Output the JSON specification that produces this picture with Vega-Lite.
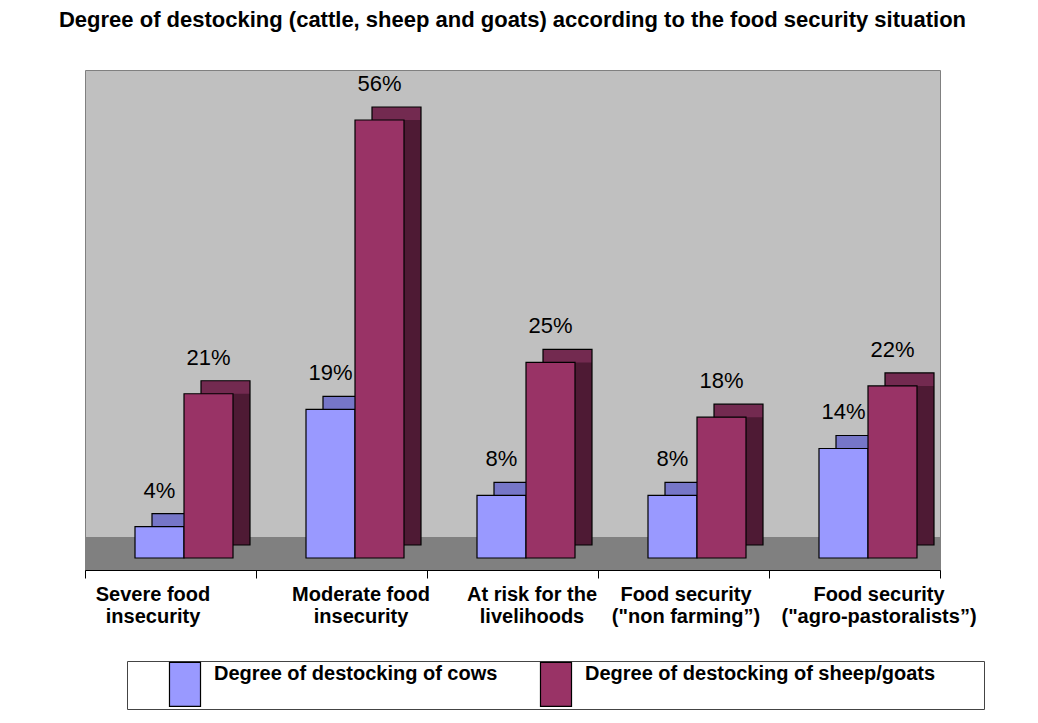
{
  "$schema": "https://vega.github.io/schema/vega-lite/v6.json",
  "width": 855,
  "height": 500,
  "autosize": {"type": "none"},
  "padding": {"left": 85, "top": 70, "right": 98, "bottom": 153},
  "background": "white",
  "title": {
    "text": "Degree of destocking (cattle, sheep and goats) according to the food security situation",
    "font": "Liberation Sans",
    "fontSize": 22,
    "fontWeight": "bold",
    "color": "black",
    "anchor": "middle",
    "offset": 38
  },
  "config": {
    "view": {"fill": "#C0C0C0", "stroke": "#808080", "strokeWidth": 1}
  },
  "resolve": {"scale": {"xOffset": "independent"}},
  "data": {
    "values": [
      {"category": "Severe food insecurity", "series": "Degree of destocking of cows", "value": 0.04},
      {"category": "Severe food insecurity", "series": "Degree of destocking of sheep/goats", "value": 0.21},
      {"category": "Moderate food insecurity", "series": "Degree of destocking of cows", "value": 0.19},
      {"category": "Moderate food insecurity", "series": "Degree of destocking of sheep/goats", "value": 0.56},
      {"category": "At risk for the livelihoods", "series": "Degree of destocking of cows", "value": 0.08},
      {"category": "At risk for the livelihoods", "series": "Degree of destocking of sheep/goats", "value": 0.25},
      {"category": "Food security (\"non farming”)", "series": "Degree of destocking of cows", "value": 0.08},
      {"category": "Food security (\"non farming”)", "series": "Degree of destocking of sheep/goats", "value": 0.18},
      {"category": "Food security (\"agro-pastoralists”)", "series": "Degree of destocking of cows", "value": 0.14},
      {"category": "Food security (\"agro-pastoralists”)", "series": "Degree of destocking of sheep/goats", "value": 0.22}
    ]
  },
  "layer": [
    {
      "data": {"values": [{}]},
      "mark": {"type": "rect", "color": "#808080"},
      "encoding": {
        "y": {"datum": -0.01534, "type": "quantitative", "scale": {"domain": [-0.01534, 0.6239], "nice": false, "zero": false}, "axis": null},
        "y2": {"datum": 0.02685}
      }
    },
    {
      "mark": {"type": "bar", "yOffset": -13, "y2Offset": -13},
      "encoding": {
        "x": {"field": "category", "type": "nominal", "sort": null, "scale": {"paddingInner": 0, "paddingOuter": 0}},
        "xOffset": {"field": "series", "type": "nominal", "sort": null, "scale": {"range": [67, 165], "paddingInner": 0, "paddingOuter": 0}},
        "y": {"field": "value", "type": "quantitative", "stack": null},
        "y2": {"datum": 0},
        "color": {"condition": {"test": "datum.series == 'Degree of destocking of cows'", "value": "#7676C8"}, "value": "#732A50"}
      }
    },
    {
      "mark": {"type": "bar", "y2Offset": -13},
      "encoding": {
        "x": {"field": "category", "type": "nominal", "sort": null},
        "xOffset": {"field": "series", "type": "nominal", "sort": null, "scale": {"range": [67, 165], "paddingInner": 0, "paddingOuter": 0}},
        "y": {"field": "value", "type": "quantitative", "stack": null},
        "y2": {"datum": 0},
        "color": {"condition": {"test": "datum.series == 'Degree of destocking of cows'", "value": "#4D4D80"}, "value": "#4E1A34"}
      }
    },
    {
      "mark": {"type": "bar", "yOffset": -13, "y2Offset": -13, "fill": null, "fillOpacity": 0, "stroke": "black", "strokeWidth": 1.2},
      "encoding": {
        "x": {"field": "category", "type": "nominal", "sort": null},
        "xOffset": {"field": "series", "type": "nominal", "sort": null, "scale": {"range": [67, 165], "paddingInner": 0, "paddingOuter": 0}},
        "y": {"field": "value", "type": "quantitative", "stack": null},
        "y2": {"datum": 0}
      }
    },
    {
      "mark": {"type": "bar", "stroke": "black", "strokeWidth": 1.2},
      "encoding": {
        "x": {
          "field": "category", "type": "nominal", "sort": null,
          "axis": {
            "title": null,
            "labelAngle": 0,
            "labelAlign": "center",
            "labelFont": "Liberation Sans",
            "labelFontSize": 20,
            "labelFontWeight": "bold",
            "labelColor": "black",
            "labelLineHeight": 22,
            "labelBaseline": "top",
            "labelPadding": 6,
            "labelLimit": 0,
            "labelOverlap": false,
            "labelOffset": {
              "condition": [
                {"test": "datum.value == 'Severe food insecurity'", "value": -18},
                {"test": "datum.value == 'Food security (\"non farming”)'", "value": 2},
                {"test": "datum.value == 'Food security (\"agro-pastoralists”)'", "value": 24}
              ],
              "value": 19
            },
            "tickBand": "extent",
            "tickSize": 8,
            "tickColor": "black",
            "domainColor": "black",
            "labelExpr": "{'Severe food insecurity': ['Severe food', 'insecurity'], 'Moderate food insecurity': ['Moderate food', 'insecurity'], 'At risk for the livelihoods': ['At risk for the', 'livelihoods'], 'Food security (\"non farming”)': ['Food security', '(\"non farming”)'], 'Food security (\"agro-pastoralists”)': ['Food security', '(\"agro-pastoralists”)']}[datum.value]"
          }
        },
        "xOffset": {"field": "series", "type": "nominal", "sort": null, "scale": {"range": [50, 148], "paddingInner": 0, "paddingOuter": 0}},
        "y": {"field": "value", "type": "quantitative", "stack": null},
        "y2": {"datum": 0},
        "color": {
          "field": "series", "type": "nominal", "sort": null,
          "scale": {"domain": ["Degree of destocking of cows", "Degree of destocking of sheep/goats"], "range": ["#9999FF", "#993366"]},
          "legend": {
            "title": "\u00a0",
            "titleOrient": "right",
            "titlePadding": 49,
            "titleFontSize": 10,
            "orient": "none",
            "legendX": 42,
            "legendY": 591,
            "direction": "horizontal",
            "columns": 2,
            "padding": 0,
            "strokeColor": "#444444",
            "symbolType": "M-0.705,-1H0.705V1H-0.705Z",
            "symbolSize": 1936,
            "symbolStrokeColor": "black",
            "symbolStrokeWidth": 1.2,
            "symbolOffset": 35,
            "labelOffset": 6,
            "labelFont": "Liberation Sans",
            "labelFontSize": 20,
            "labelFontWeight": "bold",
            "labelColor": "black",
            "labelBaseline": "bottom",
            "labelLimit": 0,
            "columnPadding": 0,
            "rowPadding": 0
          }
        }
      }
    },
    {
      "mark": {"type": "text", "dy": -36, "baseline": "middle", "align": "center", "font": "Liberation Sans", "fontSize": 22, "color": "black"},
      "encoding": {
        "x": {"field": "category", "type": "nominal", "sort": null},
        "xOffset": {"field": "series", "type": "nominal", "sort": null, "scale": {"range": [74.5, 123.5], "padding": 0}},
        "y": {"field": "value", "type": "quantitative", "stack": null},
        "text": {"field": "value", "type": "quantitative", "format": ".0%"}
      }
    }
  ]
}
